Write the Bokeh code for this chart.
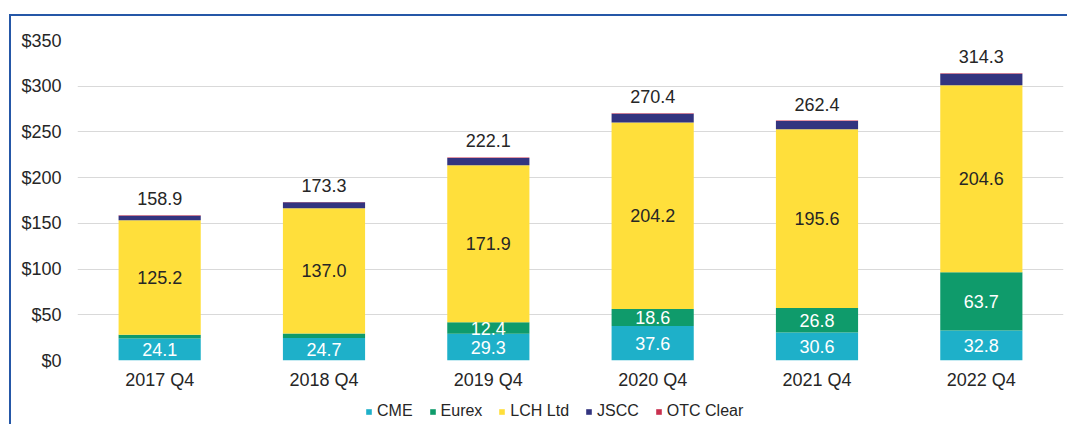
from bokeh.plotting import figure
from bokeh.layouts import column
from bokeh.models import ColumnDataSource, FactorRange, Range1d, FixedTicker, Legend, LegendItem
from bokeh.core.properties import value
from bokeh.embed import file_html
from bokeh.resources import INLINE

quarters = ["2017 Q4", "2018 Q4", "2019 Q4", "2020 Q4", "2021 Q4", "2022 Q4"]
cme = [24.1, 24.7, 29.3, 37.6, 30.6, 32.8]
eurex = [4.0, 4.7, 12.4, 18.6, 26.8, 63.7]
lch = [125.2, 137.0, 171.9, 204.2, 195.6, 204.6]
jscc = [5.0, 6.7, 8.0, 9.6, 9.0, 12.6]
otc = [0.6, 0.2, 0.5, 0.4, 0.4, 0.6]
totals = [158.9, 173.3, 222.1, 270.4, 262.4, 314.3]
series = ["CME", "Eurex", "LCH Ltd", "JSCC", "OTC Clear"]
colors = ["#1EB0C9", "#0F9B6B", "#FFDF3B", "#33347F", "#C9304F"]
yticks = [0, 50, 100, 150, 200, 250, 300, 350]
show_eurex_label = [False, False, True, True, True, True]

FONT = "Liberation Sans"
BORDER = "2px solid #2557A7"

data = dict(q=quarters, CME=cme, Eurex=eurex, LCH=lch, JSCC=jscc, OTC=otc)
src = ColumnDataSource(data)

p = figure(x_range=FactorRange(*quarters), y_range=Range1d(0, 350),
           width=1058, height=380, output_backend="svg", toolbar_location=None,
           min_border_left=66, min_border_right=6, min_border_top=24, min_border_bottom=36)
p.outline_line_color = None
p.styles = {"margin-left": "9px", "margin-top": "14px",
            "border-left": BORDER, "border-top": BORDER}

keys = ["CME", "Eurex", "LCH", "JSCC", "OTC"]
p.vbar_stack(keys, x="q", width=0.5, color=colors, line_color=None, source=src)

# labels
cme_lab = ColumnDataSource(dict(q=quarters, y=[c / 2 for c in cme], t=["%.1f" % v for v in cme]))
eq = [q for q, s in zip(quarters, show_eurex_label) if s]
ey = [c + e / 2 for c, e, s in zip(cme, eurex, show_eurex_label) if s]
et = ["%.1f" % e for e, s in zip(eurex, show_eurex_label) if s]
eur_lab = ColumnDataSource(dict(q=eq, y=ey, t=et))
lch_lab = ColumnDataSource(dict(q=quarters, y=[c + e + l / 2 for c, e, l in zip(cme, eurex, lch)],
                                t=["%.1f" % v for v in lch]))
tot_lab = ColumnDataSource(dict(q=quarters, y=totals, t=["%.1f" % v for v in totals]))

common = dict(text_font=value(FONT), text_font_size="18px", text_align="center")
p.text(x="q", y="y", text="t", source=cme_lab, text_color="white", text_baseline="middle", **common)
p.text(x="q", y="y", text="t", source=eur_lab, text_color="white", text_baseline="middle", **common)
p.text(x="q", y="y", text="t", source=lch_lab, text_color="#262626", text_baseline="middle", **common)
p.text(x="q", y="y", text="t", source=tot_lab, text_color="#262626", text_baseline="bottom",
       y_offset=-10, **common)

p.yaxis.ticker = FixedTicker(ticks=yticks)
p.yaxis.major_label_overrides = {t: "$%d" % t for t in yticks}
for ax in (p.xaxis, p.yaxis):
    ax.axis_line_color = None
    ax.major_tick_line_color = None
    ax.minor_tick_line_color = None
    ax.major_label_text_font = FONT
    ax.major_label_text_font_size = "18px"
    ax.major_label_text_color = "#262626"
p.yaxis.major_label_standoff = 10
p.xaxis.major_label_standoff = 3
p.xgrid.grid_line_color = None
p.ygrid.grid_line_color = "#D9D9D9"
p.ygrid.grid_line_width = 1.2

# legend strip (dummy renderers sit outside the visible range; only their legend swatches show)
lg = figure(x_range=Range1d(0, 1), y_range=Range1d(0, 1), width=1058, height=30,
            output_backend="svg", toolbar_location=None,
            min_border_left=0, min_border_right=0, min_border_top=0, min_border_bottom=0)
lg.axis.visible = False
lg.grid.visible = False
lg.outline_line_color = None
lg.styles = {"margin-left": "9px", "border-left": BORDER}
dummy = ColumnDataSource(dict(x=[-5], top=[-5]))
dummies = [lg.vbar(x="x", top="top", width=0.1, color=c, line_color=None, source=dummy)
           for c in colors]
legend = Legend(items=[LegendItem(label=s, renderers=[r]) for s, r in zip(series, dummies)],
                orientation="horizontal", location=(288, 4),
                label_text_font=FONT, label_text_font_size="16px", label_text_color="#262626",
                glyph_width=7, glyph_height=7, label_standoff=5, spacing=16,
                border_line_color=None, background_fill_alpha=0, padding=0, margin=0)
lg.add_layout(legend)

layout = column(p, lg, spacing=0)
open("out.html", "w").write(file_html(layout, INLINE))
